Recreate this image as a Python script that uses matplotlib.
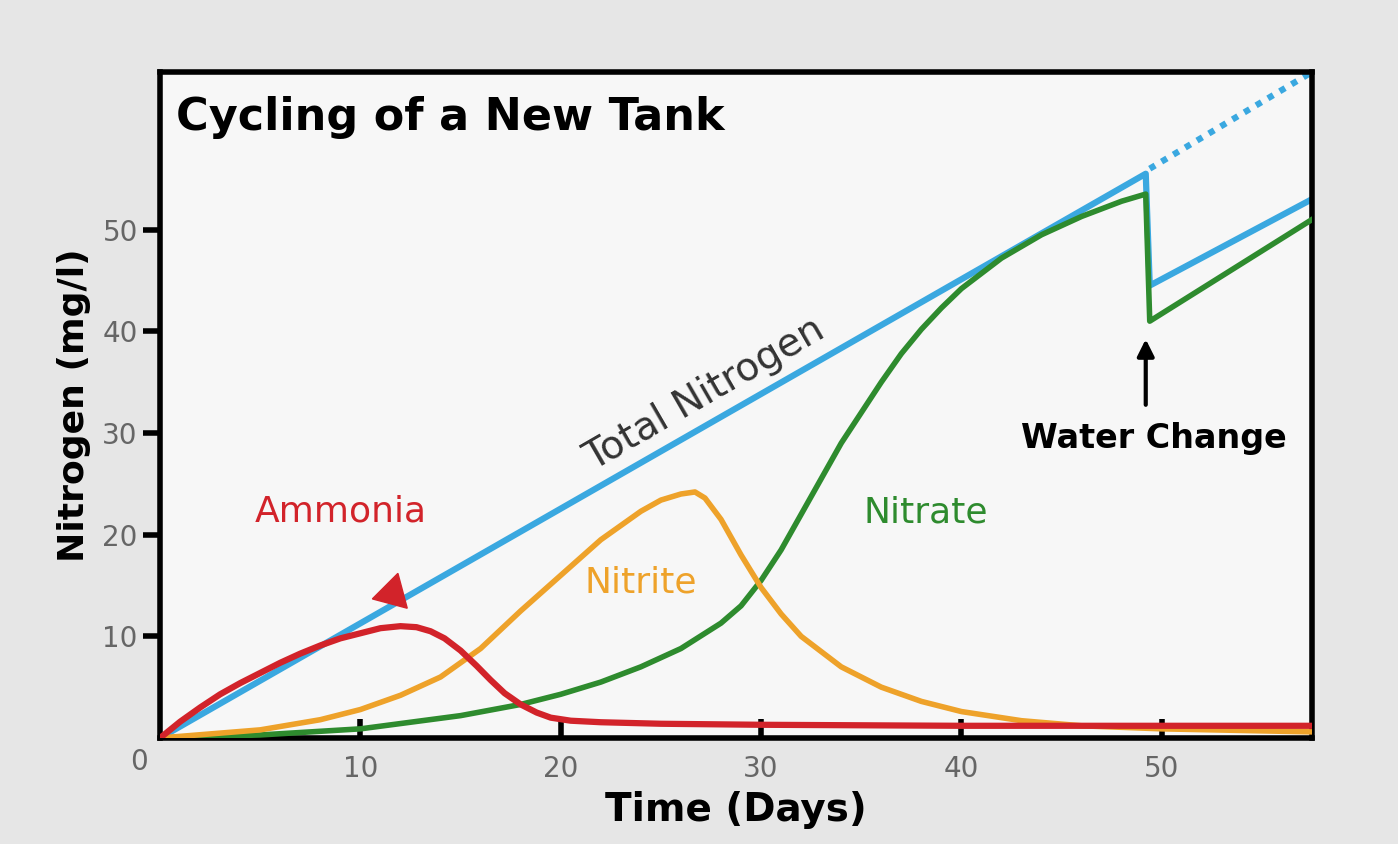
import matplotlib
matplotlib.use("Agg")
import matplotlib.pyplot as plt

total_x = [0, 49.2, 49.4, 57.5]
total_y = [0, 55.5, 44.5, 53]
dotted_x = [49.4, 57.5]
dotted_y = [56, 65.5]
amm_x = [0, 1, 2, 3, 4, 5, 6, 7, 8, 9, 10, 11, 12, 12.8, 13.5, 14.2, 15, 15.8, 16.5, 17.2, 18, 18.8, 19.5, 20.5, 22, 25, 30, 40, 50, 57.5]
amm_y = [0, 1.6, 3, 4.3, 5.4, 6.4, 7.4, 8.3, 9.1, 9.8, 10.3, 10.8, 11, 10.9, 10.5, 9.8, 8.6, 7.1, 5.7, 4.4, 3.3, 2.5, 2.0, 1.7, 1.55, 1.4, 1.3, 1.2, 1.2, 1.2]
nitrite_x = [0, 5, 8, 10, 12, 14, 16, 18, 20, 22, 24, 25, 26, 26.7, 27.2, 28, 29, 30, 31, 32, 34, 36, 38, 40, 43, 46, 50, 57.5]
nitrite_y = [0, 0.8, 1.8, 2.8, 4.2, 6, 8.8, 12.5, 16, 19.5, 22.3, 23.4, 24, 24.2, 23.6, 21.5, 18, 14.8, 12.2, 10, 7, 5, 3.6, 2.6, 1.7, 1.2, 0.9, 0.6]
nitrate_x = [0, 5, 10, 15, 18, 20, 22, 24, 26, 28, 29, 30, 31, 32, 33, 34, 35, 36, 37, 38, 39, 40, 42, 44, 46, 48, 49.2, 49.4, 57.5]
nitrate_y = [0, 0.3, 0.9, 2.2, 3.3, 4.3, 5.5, 7, 8.8, 11.3, 13, 15.5, 18.5, 22, 25.5, 29, 32, 35, 37.8, 40.2, 42.3, 44.2, 47.2, 49.5, 51.3, 52.8, 53.5, 41, 51]
xticks = [10, 20, 30, 40, 50]
yticks = [0, 10, 20, 30, 40, 50]

fig = plt.figure(figsize=(13.98, 8.44), dpi=100, facecolor="#e6e6e6")
ax = fig.add_axes([0.1145, 0.1256, 0.824, 0.789])
ax.set_facecolor("#f7f7f7")
ax.set_xlim(0, 57.5)
ax.set_ylim(0, 65.5)

blue, red, orange, green = "#3aa8e0", "#d2232a", "#eea22a", "#2e8b2e"
ax.plot(total_x, total_y, color=blue, lw=4.5, zorder=2)
ax.plot(dotted_x, dotted_y, color=blue, lw=4.5, ls=(0, (1, 1.2)), zorder=2)
ax.plot(nitrate_x, nitrate_y, color=green, lw=4, zorder=3)
ax.plot(nitrite_x, nitrite_y, color=orange, lw=4, zorder=3)
ax.plot(amm_x, amm_y, color=red, lw=4.5, zorder=4)

for s in ax.spines.values():
    s.set_linewidth(4)
ax.set_xticks(xticks)
ax.set_yticks(yticks[1:])
ax.tick_params(axis="x", direction="in", length=14, width=4, labelsize=20, labelcolor="#666666", pad=12)
ax.tick_params(axis="y", direction="out", length=12, width=4, labelsize=20, labelcolor="#666666", pad=4)
ax.text(-0.6, -1, "0", ha="right", va="top", fontsize=20, color="#666666")
ax.set_xlabel("Time (Days)", fontsize=28, fontweight="bold", labelpad=6)
ax.set_ylabel("Nitrogen (mg/l)", fontsize=26, fontweight="bold", labelpad=8)

ax.text(0.8, 61, "Cycling of a New Tank", fontsize=32, fontweight="bold", va="center")
ax.text(27.2, 33.8, "Total Nitrogen", fontsize=28, color="#333333", rotation=30,
        rotation_mode="anchor", ha="center", va="center")
ax.text(9.0, 22.3, "Ammonia", fontsize=26, color=red, ha="center", va="center")
ax.text(24, 15.3, "Nitrite", fontsize=26, color=orange, ha="center", va="center")
ax.text(38.2, 22.2, "Nitrate", fontsize=26, color=green, ha="center", va="center")
ax.text(49.6, 29.5, "Water Change", fontsize=24, fontweight="bold", ha="center", va="center")
ax.annotate("", xy=(49.2, 39.5), xytext=(49.2, 32.5),
            arrowprops=dict(arrowstyle="-|>", lw=3, color="black", mutation_scale=25))
ax.plot([11.6], [14.3], marker=(3, 0, -135), markersize=30, color=red, zorder=5)
fig.savefig("out.png", dpi=100, facecolor=fig.get_facecolor())
